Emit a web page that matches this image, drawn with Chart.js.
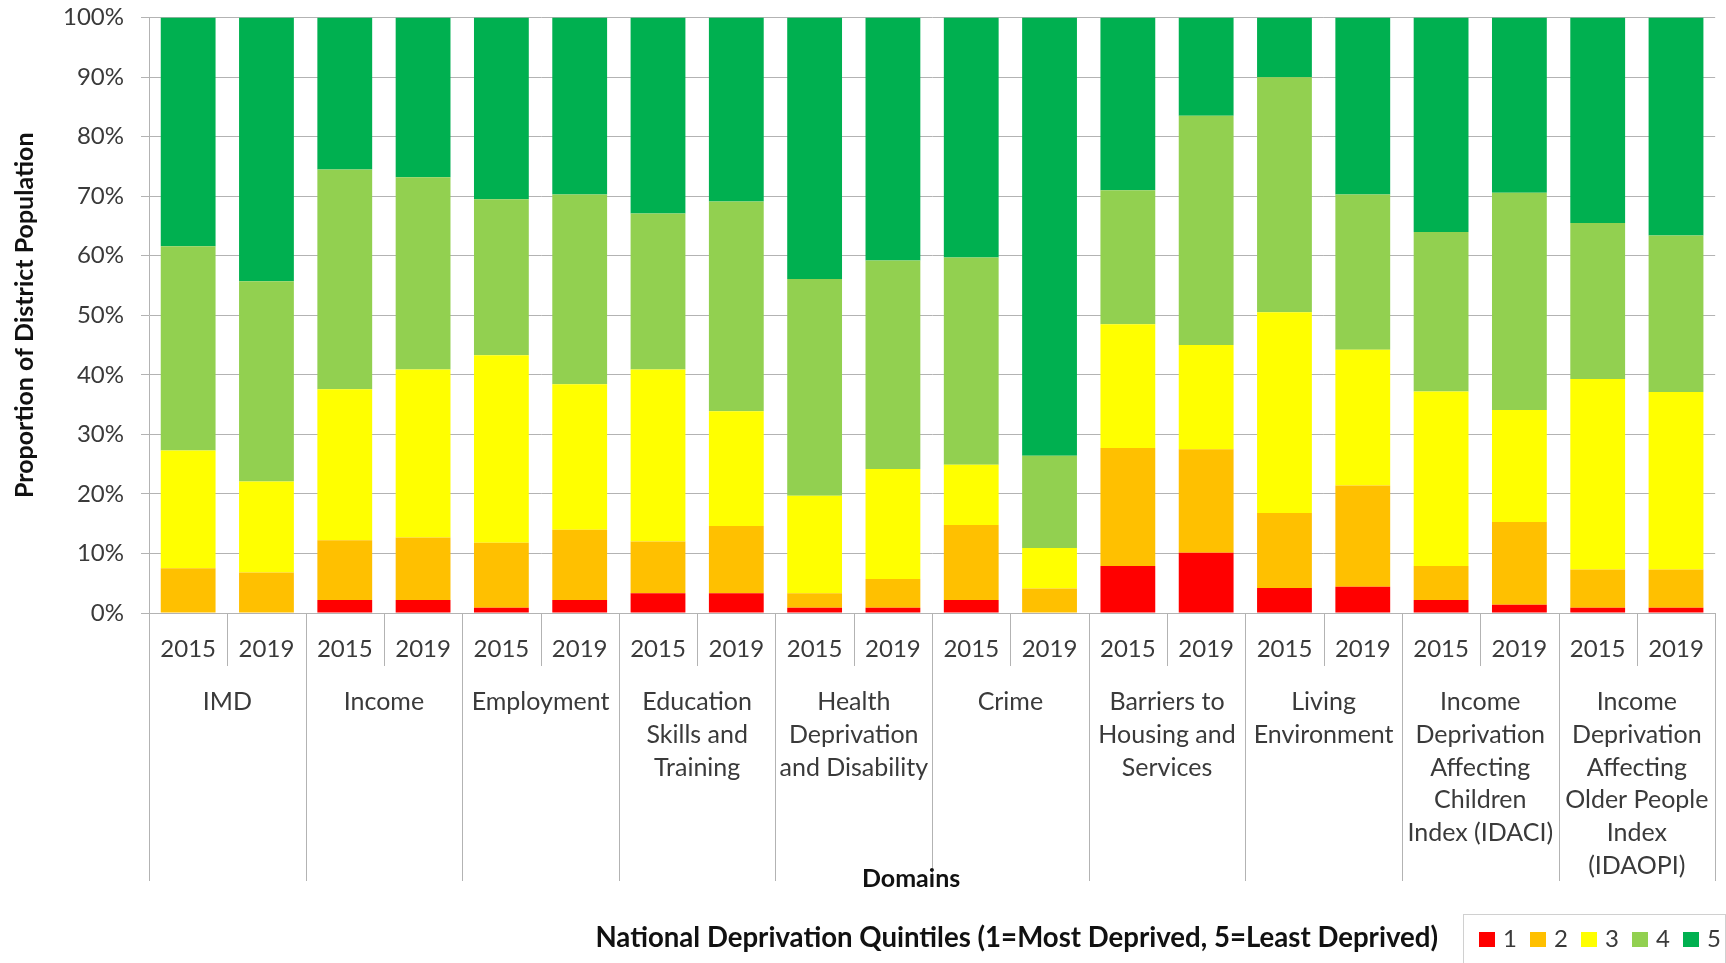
<!DOCTYPE html>
<html><head><meta charset="utf-8">
<script src="https://cdn.jsdelivr.net/npm/chart.js@4.4.1/dist/chart.umd.min.js"></script>
<style>html,body{margin:0;padding:0;background:#fff;overflow:hidden;} canvas{display:block;}</style>
</head><body>
<canvas id="c" width="1726" height="963"></canvas>
<script>
// ---- data ----
const years = ["2015","2019","2015","2019","2015","2019","2015","2019","2015","2019",
               "2015","2019","2015","2019","2015","2019","2015","2019","2015","2019"];
const domains = [
  ["IMD"],
  ["Income"],
  ["Employment"],
  ["Education","Skills and","Training"],
  ["Health","Deprivation","and Disability"],
  ["Crime"],
  ["Barriers to","Housing and","Services"],
  ["Living","Environment"],
  ["Income","Deprivation","Affecting","Children","Index (IDACI)"],
  ["Income","Deprivation","Affecting","Older People","Index","(IDAOPI)"]
];
const quintileLabels = ["1","2","3","4","5"];
const quintileColors = ["#FF0000","#FFC000","#FFFF00","#92D050","#00B050"];
const q1 = [0,0,2.2,2.2,0.9,2.2,3.3,3.3,0.9,0.9,2.2,0,7.9,10.1,4.2,4.4,2.2,1.4,0.9,0.9];
const q2 = [7.5,6.8,10.0,10.5,10.9,11.8,8.7,11.3,2.4,4.8,12.6,4.1,19.8,17.4,12.6,17.0,5.7,13.9,6.4,6.4];
const q3 = [19.8,15.3,25.4,28.2,31.5,24.4,28.9,19.3,16.4,18.5,10.1,6.8,20.8,17.5,33.7,22.8,29.3,18.8,32.0,29.8];
const q4 = [34.3,33.6,36.9,32.3,26.2,31.9,26.2,35.2,36.4,35.0,34.8,15.5,22.5,38.5,39.5,26.1,26.8,36.5,26.2,26.3];
const q5 = [38.4,44.3,25.5,26.8,30.5,29.7,32.9,30.9,43.9,40.8,40.3,73.6,29.0,16.5,10.0,29.7,36.0,29.4,34.5,36.6];
const yAxisTitle = "Proportion of District Population";
const xAxisTitle = "Domains";
const legendTitle = "National Deprivation Quintiles (1=Most Deprived, 5=Least Deprived)";

// ---- style ----
const FONT = "Lato, 'Open Sans', sans-serif";
const gridColor = "#b3b3b3";
const textColor = "#3a3a3a";

const series = [q1,q2,q3,q4,q5];

const multiLevelAxis = {
  id: 'multiLevelAxis',
  afterDraw(chart) {
    const ctx = chart.ctx, xs = chart.scales.x, area = chart.chartArea;
    const n = years.length, catW = (xs.right - xs.left) / n;
    ctx.save();
    ctx.strokeStyle = gridColor; ctx.lineWidth = 1;
    for (let k = 0; k <= n; k++) {
      const x = Math.round(xs.left + k * catW) + 0.5;
      const y2 = (k % 2 === 0) ? area.bottom + 268 : area.bottom + 53;
      ctx.beginPath(); ctx.moveTo(x, area.bottom); ctx.lineTo(x, y2); ctx.stroke();
    }
    ctx.fillStyle = textColor;
    ctx.font = "25px " + FONT;
    ctx.textAlign = 'center'; ctx.textBaseline = 'alphabetic';
    domains.forEach((lines, g) => {
      const cx = xs.left + (2 * g + 1) * catW;
      lines.forEach((t, j) => ctx.fillText(t, cx, area.bottom + 97 + j * 32.8));
    });
    ctx.fillStyle = "#111";
    ctx.font = "bold 25px " + FONT;
    ctx.fillText(xAxisTitle, (area.left + area.right) / 2 - 21, area.bottom + 274);
    // legend
    ctx.textAlign = 'right';
    ctx.font = "bold 27.6px " + FONT;
    ctx.fillText(legendTitle, 1438, 947);
    ctx.strokeStyle = "#d0d0d0";
    ctx.strokeRect(1463.5, 914.5, 262, 80);
    ctx.textAlign = 'left';
    ctx.font = "24px " + FONT;
    chart.data.datasets.forEach((ds, i) => {
      const x0 = 1479 + i * 51;
      ctx.fillStyle = ds.backgroundColor;
      ctx.fillRect(x0, 932, 16, 15);
      ctx.fillStyle = textColor;
      ctx.fillText(ds.label, x0 + 24, 947);
    });
    ctx.restore();
  }
};

new Chart(document.getElementById('c'), {
  type: 'bar',
  data: {
    labels: years,
    datasets: series.map((d, i) => ({
      label: quintileLabels[i],
      data: d,
      backgroundColor: quintileColors[i],
      borderWidth: 0,
      barPercentage: 0.7,
      categoryPercentage: 1.0
    }))
  },
  options: {
    responsive: false,
    animation: false,
    devicePixelRatio: 1,
    layout: { padding: { left: 0, right: 6, top: 17.6, bottom: 0 } },
    plugins: { legend: { display: false }, tooltip: { enabled: false } },
    scales: {
      x: {
        stacked: true,
        grid: { display: false, drawTicks: false },
        border: { display: true, color: gridColor, width: 1 },
        ticks: { color: textColor, font: { family: FONT, size: 24 }, padding: 22, maxRotation: 0, autoSkip: false },
        afterFit(scale) { scale.height = 350; }
      },
      y: {
        stacked: true,
        min: 0, max: 100,
        grid: { color: gridColor, lineWidth: 1, drawTicks: true, tickLength: 8 },
        border: { display: true, color: gridColor, width: 1 },
        ticks: { stepSize: 10, color: textColor, font: { family: FONT, size: 24 }, padding: 17,
                 callback: v => v + '%' },
        title: { display: true, text: yAxisTitle, color: "#111",
                 font: { family: FONT, size: 25, weight: 'bold' }, padding: { top: 10, bottom: 0 } },
        afterFit(scale) { scale.width = 149; scale.paddingTop = 0; scale.paddingBottom = 0; }
      }
    }
  },
  plugins: [multiLevelAxis]
});
</script>
</body></html>
